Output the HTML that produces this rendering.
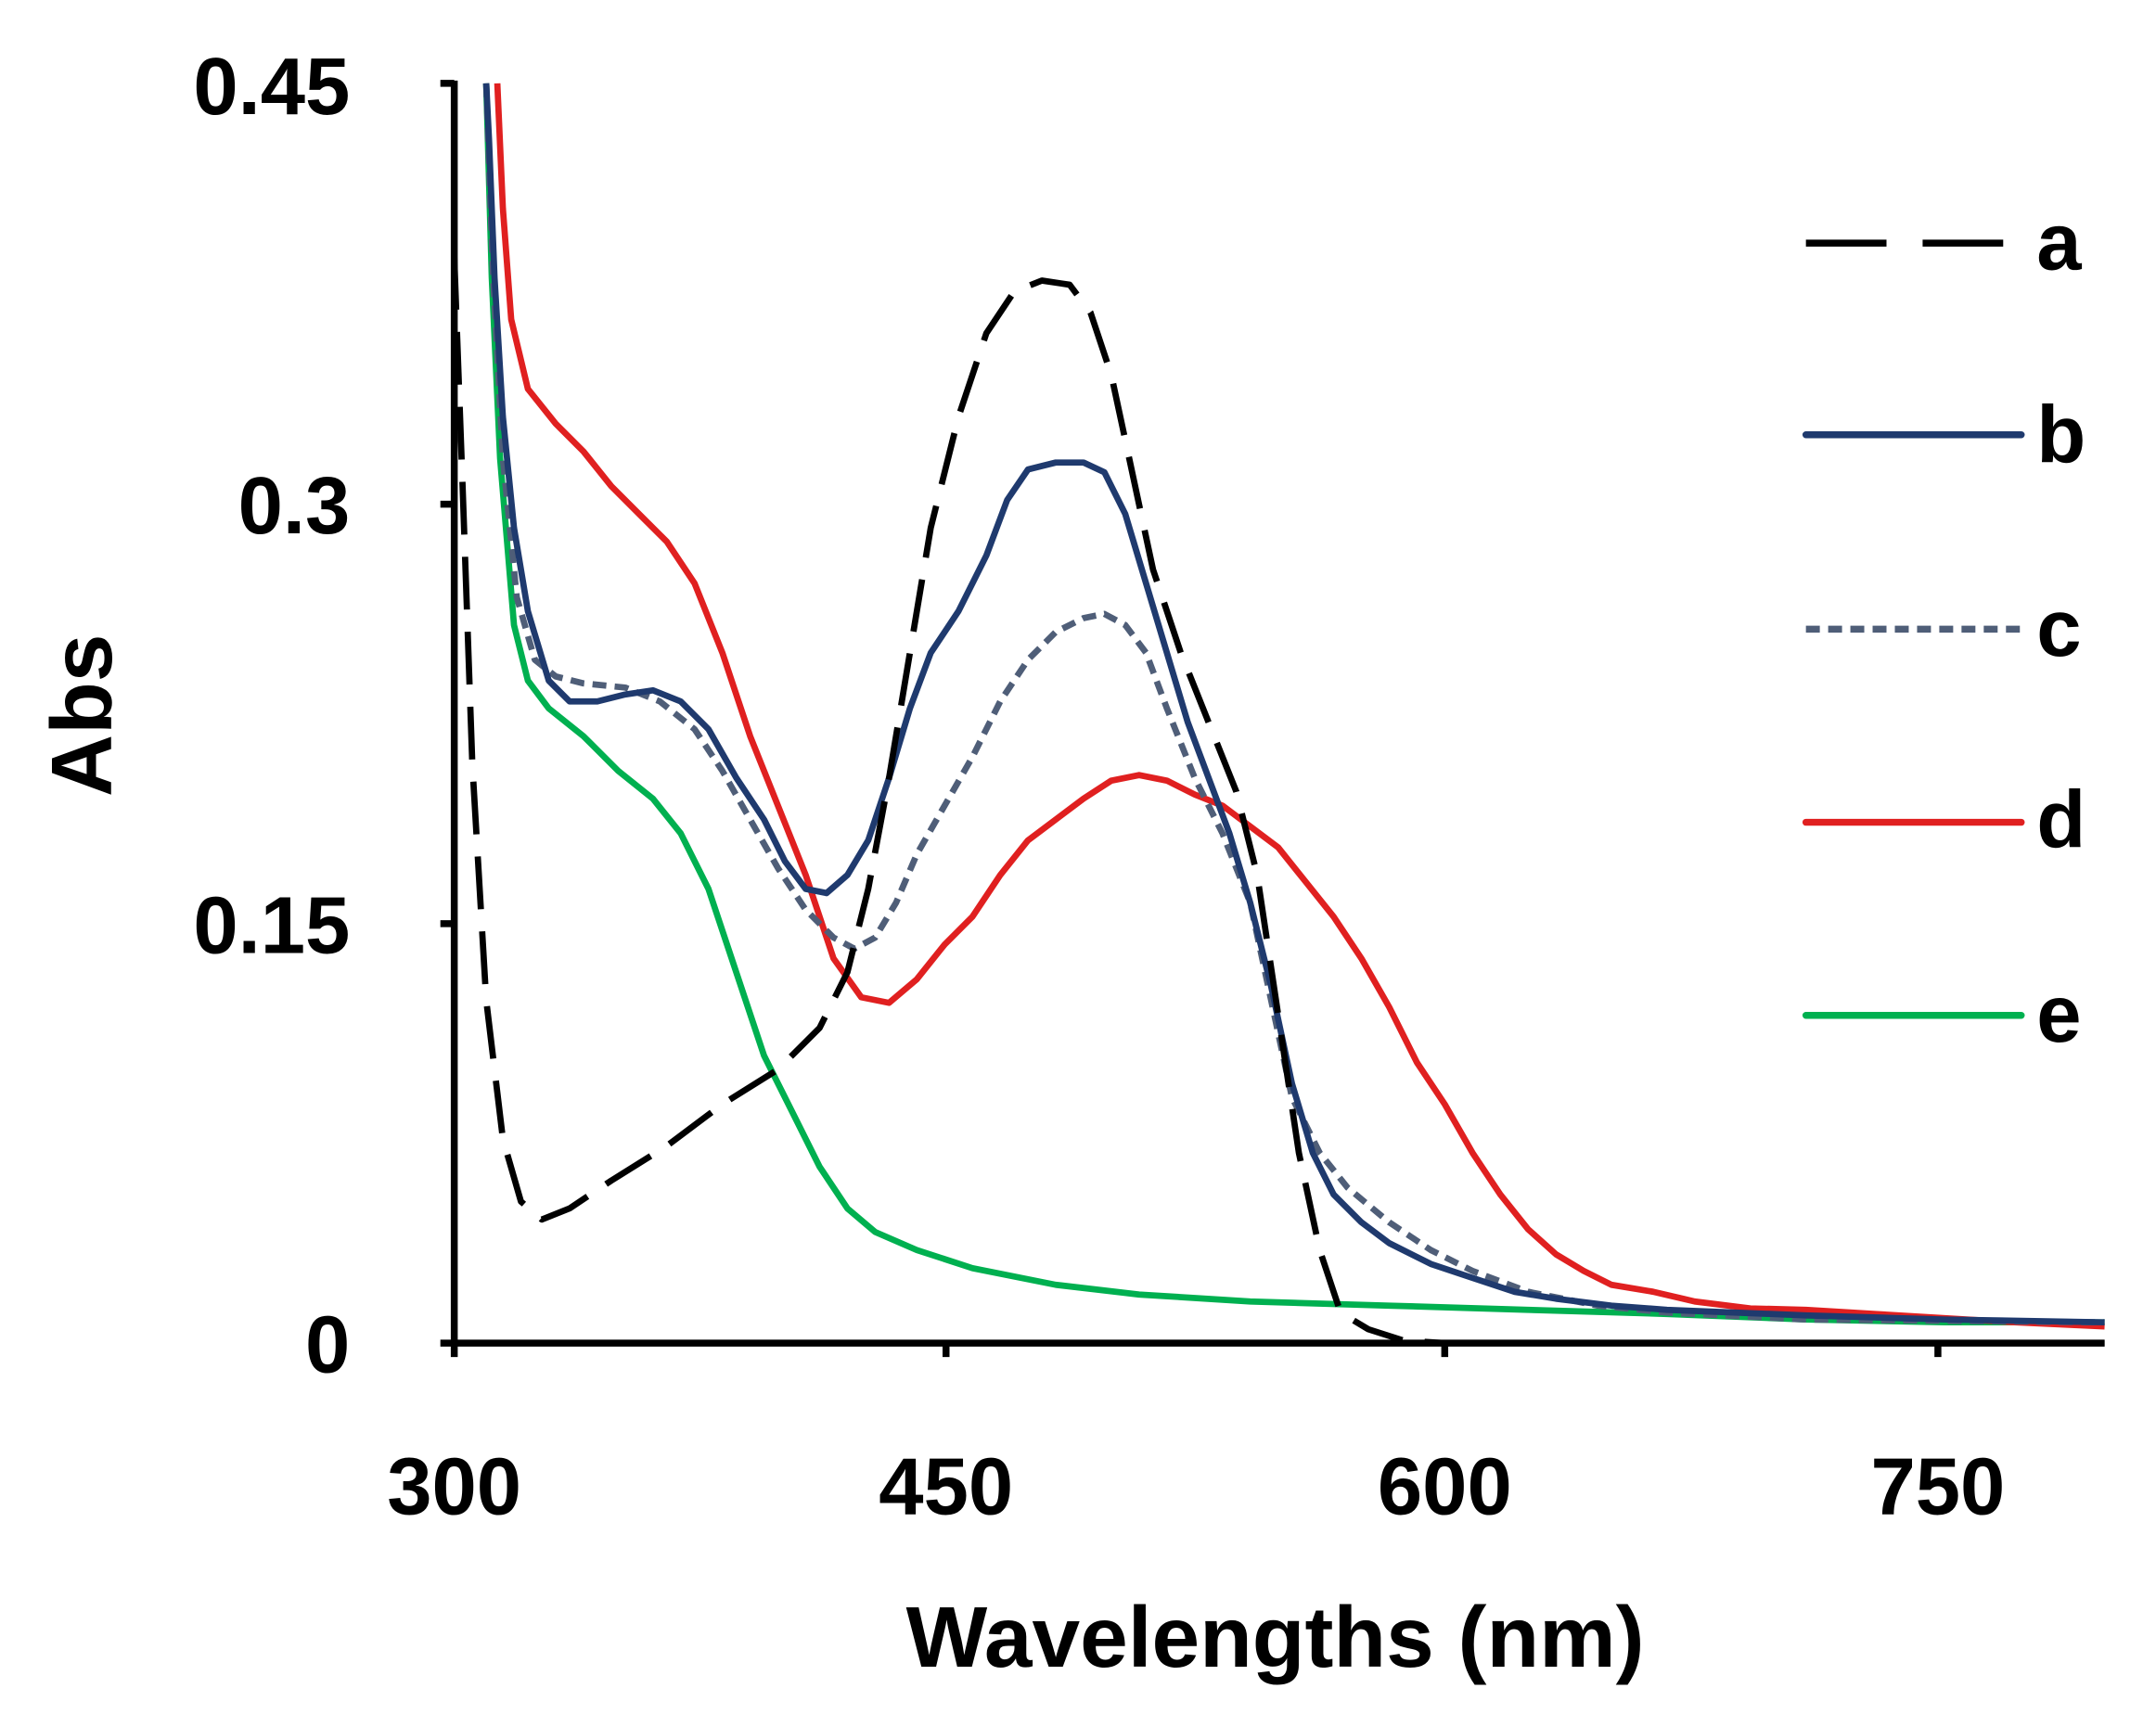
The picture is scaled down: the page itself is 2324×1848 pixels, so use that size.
<!DOCTYPE html>
<html><head><meta charset="utf-8"><style>html,body{margin:0;padding:0;background:#fff}svg{display:block}</style></head>
<body>
<svg width="2324" height="1848" viewBox="0 0 1552 1234" preserveAspectRatio="none" xmlns="http://www.w3.org/2000/svg">
<rect width="1552" height="1234" fill="#fff"/>
<g font-family="Liberation Sans, sans-serif" font-weight="bold" fill="#000">
<text x="252" y="82" font-size="58" text-anchor="end">0.45</text>
<text x="252" y="384" font-size="58" text-anchor="end">0.3</text>
<text x="252" y="686" font-size="58" text-anchor="end">0.15</text>
<text x="252" y="988" font-size="58" text-anchor="end">0</text>
<text x="327" y="1090" font-size="58" text-anchor="middle">300</text>
<text x="681" y="1090" font-size="58" text-anchor="middle">450</text>
<text x="1040" y="1090" font-size="58" text-anchor="middle">600</text>
<text x="1395" y="1090" font-size="58" text-anchor="middle">750</text>
<text x="918" y="1200" font-size="62" text-anchor="middle">Wavelengths (nm)</text>
<text transform="translate(80,515) rotate(-90)" font-size="62" text-anchor="middle">Abs</text>
<text x="1466" y="194" font-size="58">a</text>
<text x="1466" y="333" font-size="58">b</text>
<text x="1466" y="472" font-size="58">c</text>
<text x="1466" y="610" font-size="58">d</text>
<text x="1466" y="750" font-size="58">e</text>
</g>
<g stroke-width="5" fill="none" stroke-linecap="round">
<line x1="1300" y1="175" x2="1455" y2="175" stroke="#000" stroke-dasharray="58,26" stroke-linecap="butt"/>
<line x1="1300" y1="313" x2="1455" y2="313" stroke="#1f3a6e"/>
<line x1="1300" y1="453" x2="1455" y2="453" stroke="#4f5e78" stroke-dasharray="10,6" stroke-linecap="butt"/>
<line x1="1300" y1="592" x2="1455" y2="592" stroke="#e02020"/>
<line x1="1300" y1="731" x2="1455" y2="731" stroke="#00b050"/>
</g>
<g fill="none" stroke-width="4.5" stroke-linejoin="round">
<polyline stroke="#00b050" points="350,60 354,200 360,330 370,450 380,490 395,510 420,530 445,555 470,575 490,600 510,640 530,700 550,760 570,800 590,840 610,870 630,887 660,900 700,913 760,925 820,932 900,937 1000,940 1100,943 1200,946 1300,950 1400,952 1515,952"/>
<polyline stroke="#e02020" points="358,60 362,150 368,230 380,280 400,305 420,325 440,350 460,370 480,390 500,420 520,470 540,530 560,580 580,630 600,690 620,718 640,722 660,705 680,680 700,660 720,630 740,605 760,590 780,575 800,562 820,558 840,562 860,572 880,580 900,595 920,610 940,635 960,660 980,690 1000,725 1020,765 1040,795 1060,830 1080,860 1100,885 1120,903 1140,915 1160,925 1190,930 1220,937 1260,942 1300,943 1350,946 1400,949 1450,952 1515,955"/>
<polyline stroke="#4f5e78" stroke-dasharray="10,6" points="350,60 355,200 362,330 372,430 385,475 400,487 420,492 450,495 475,505 500,525 520,555 540,590 560,625 580,655 600,675 615,683 630,675 645,650 660,615 680,580 700,545 720,505 740,475 760,455 780,445 795,442 810,450 825,470 840,510 860,560 880,600 900,650 915,720 930,790 950,830 970,855 1000,880 1030,900 1060,915 1100,930 1150,940 1200,945 1300,950 1515,952"/>
<polyline stroke="#1f3a6e" points="350,60 352,100 356,200 362,300 370,380 380,440 395,490 410,505 430,505 450,500 470,497 490,505 510,525 530,560 550,590 565,620 580,640 595,643 610,630 625,605 640,560 655,510 670,470 690,440 710,400 725,360 740,338 760,333 780,333 795,340 810,370 825,420 840,470 855,520 870,560 885,600 900,650 915,710 930,780 945,830 960,860 980,880 1000,895 1030,910 1060,920 1090,930 1120,935 1160,940 1200,943 1250,945 1300,947 1400,950 1515,952"/>
<polyline stroke="#000" stroke-dasharray="38,16" points="327,185 333,350 340,550 350,720 362,820 375,865 390,878 410,870 440,850 480,825 520,795 560,770 590,740 610,700 625,640 640,560 655,470 670,380 690,300 710,240 730,210 750,202 770,205 785,225 800,270 815,340 830,410 850,470 870,520 890,570 905,630 920,730 935,830 950,900 965,945 985,957 1010,965 1040,967 1515,967"/>
</g>
<g stroke="#000" stroke-width="5" fill="none">
<line x1="327" y1="58" x2="327" y2="977"/>
<line x1="317" y1="967" x2="1515" y2="967"/>
<line x1="317" y1="60" x2="327" y2="60"/>
<line x1="317" y1="363" x2="327" y2="363"/>
<line x1="317" y1="665" x2="327" y2="665"/>
<line x1="681" y1="967" x2="681" y2="977"/>
<line x1="1040" y1="967" x2="1040" y2="977"/>
<line x1="1395" y1="967" x2="1395" y2="977"/>
</g>
</svg>
</body></html>
